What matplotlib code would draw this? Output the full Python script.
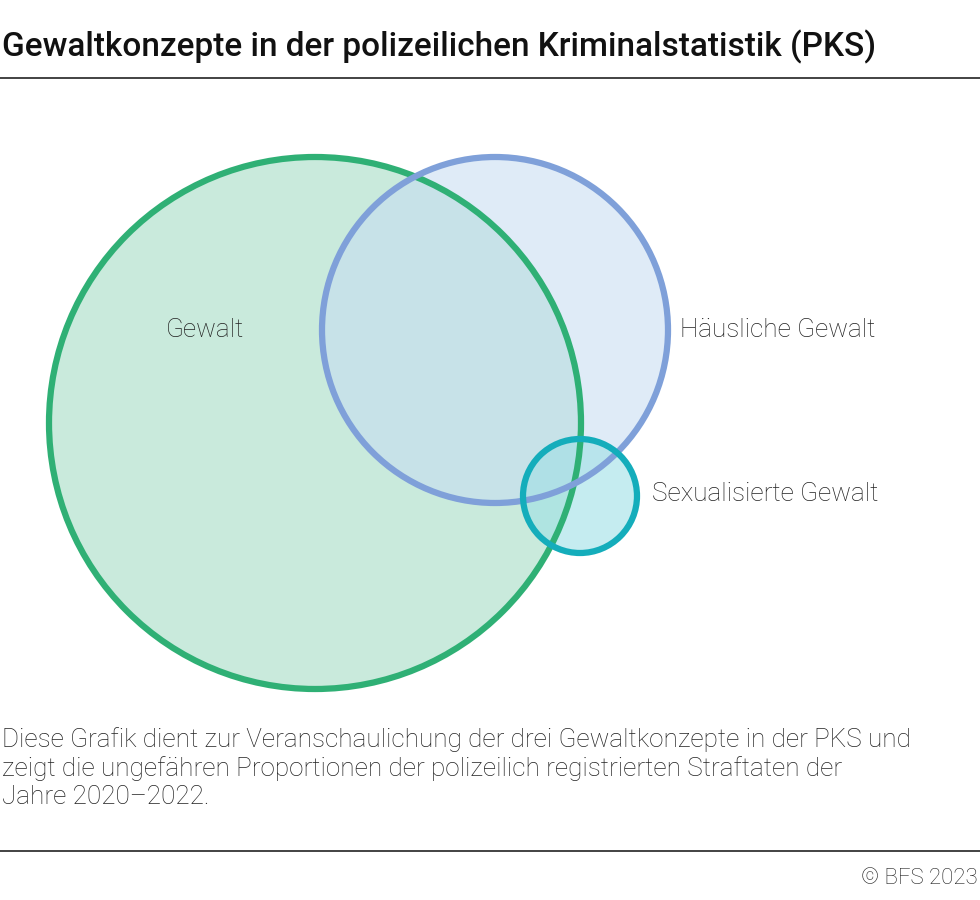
import matplotlib.pyplot as plt
from matplotlib.patches import Circle

plt.rcParams['font.family'] = 'Roboto'

# Kreise (Pixelkoordinaten im 980x900-Raster)
labels = ['Gewalt', 'Häusliche Gewalt', 'Sexualisierte Gewalt']
centers_x = [315, 495, 580]
centers_y = [423, 330, 496]
radii = [266, 173, 57]
edge_colors = ['#2fb075', '#7fa0d9', '#14adbb']
fill_colors = ['#c9eadc', '#c6dcf2', '#9fe0e6']
fill_alpha = [1.0, 0.55, 0.6]
label_x = [205, 680, 652]
label_y = [330, 330, 494]
label_ha = ['center', 'left', 'left']

fig = plt.figure(figsize=(9.8, 9), dpi=100)
ax = fig.add_axes([0, 0, 1, 1])
ax.set_xlim(0, 980)
ax.set_ylim(900, 0)
ax.axis('off')

for i in range(3):
    ax.add_patch(Circle((centers_x[i], centers_y[i]), radii[i],
                        facecolor=fill_colors[i], alpha=fill_alpha[i], lw=0))
for i in range(3):
    ax.add_patch(Circle((centers_x[i], centers_y[i]), radii[i],
                        facecolor='none', edgecolor=edge_colors[i], lw=4.5))
for i in range(3):
    ax.text(label_x[i], label_y[i], labels[i], fontsize=18.8, ha=label_ha[i],
            va='center', color='#222222', fontweight='light')

ax.text(2, 47, 'Gewaltkonzepte in der polizeilichen Kriminalstatistik (PKS)',
        fontsize=24, va='center', ha='left', color='#111111', fontweight='medium')
ax.plot([0, 980], [78, 78], color='#222222', lw=1.2)
ax.text(2, 768, 'Diese Grafik dient zur Veranschaulichung der drei Gewaltkonzepte in der PKS und\n'
        'zeigt die ungefähren Proportionen der polizeilich registrierten Straftaten der\n'
        'Jahre 2020–2022.', fontsize=18.8, va='center', ha='left', color='#222222',
        linespacing=1.2, fontweight='light')
ax.plot([0, 980], [851, 851], color='#222222', lw=1.2)
ax.text(978, 878, '© BFS 2023', fontsize=16, va='center', ha='right', color='#222222',
        fontweight='light')

fig.savefig('out.png', dpi=100)
